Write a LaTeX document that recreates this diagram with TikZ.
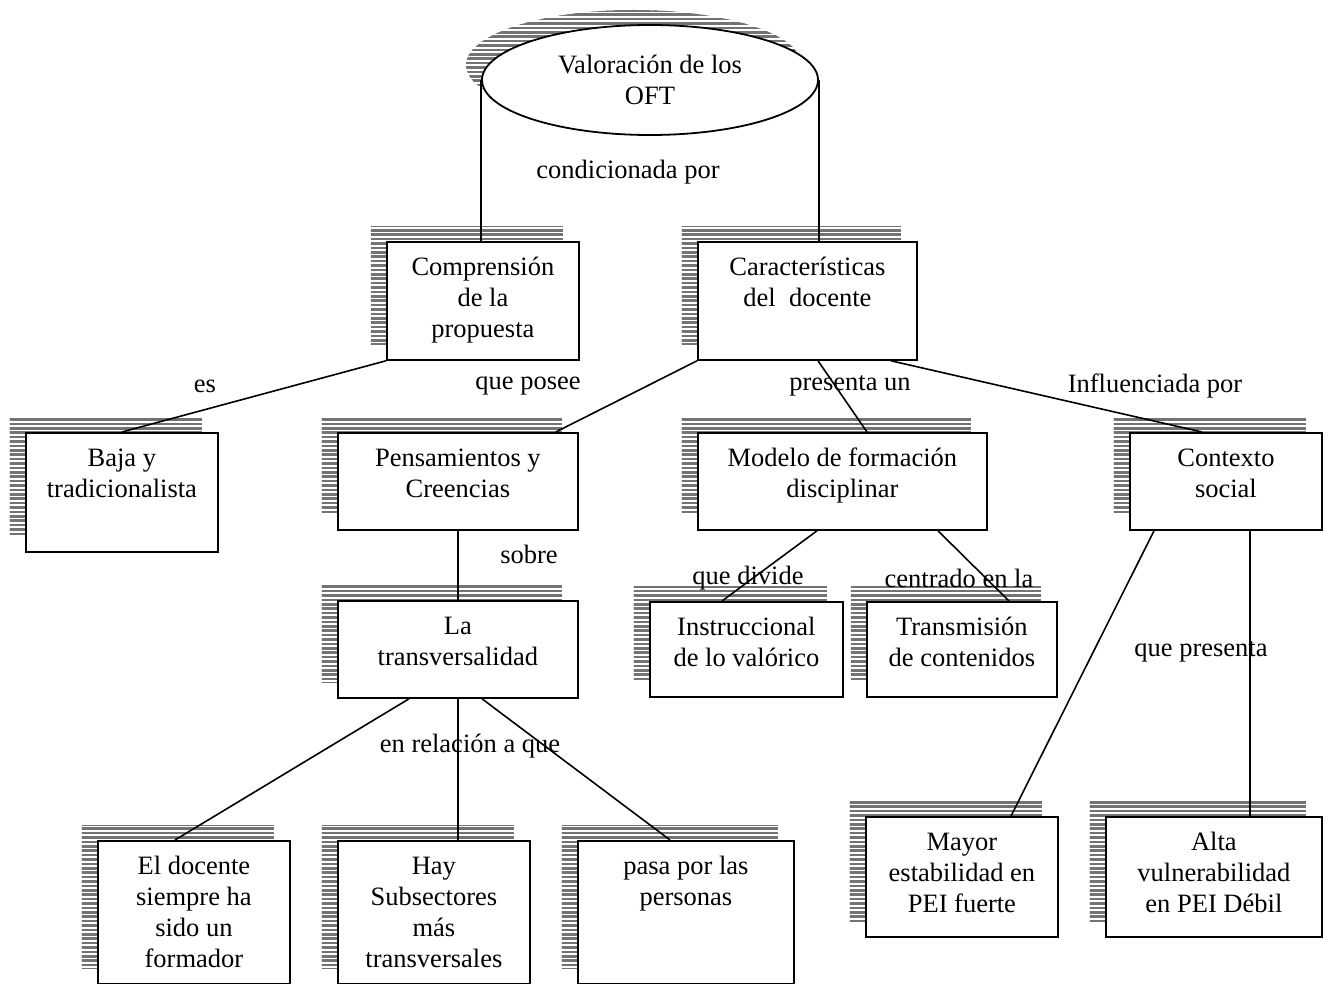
\documentclass[tikz,border=0pt]{standalone}
\usepackage{fontspec}
\setmainfont{Liberation Serif}
\usetikzlibrary{calc,patterns,shapes.geometric}

\pgfdeclarepatternformonly{rayas}{\pgfqpoint{-1pt}{-1pt}}{\pgfqpoint{5pt}{3pt}}{\pgfqpoint{4pt}{2.2pt}}%
  {\pgfpathrectangle{\pgfqpoint{-1pt}{0pt}}{\pgfqpoint{6pt}{1.25pt}}\pgfusepath{fill}}

\newlength\pxu
\setlength\pxu{0.5pt}
\newcommand{\cajatxt}[3]{\parbox[c][#2\pxu][t]{#1\pxu}{\centering\rule{0pt}{34\pxu}#3}}

\tikzset{
  sombra/.style={preaction={pattern=rayas, pattern color=black!55, transform canvas={shift={(-16,-15)}}}},
  caja/.style={draw, fill=white, line width=0.9pt, inner sep=0pt, anchor=north west, sombra},
  enlace/.style={line width=0.8pt},
  rotulo/.style={inner sep=0pt}
}

\begin{document}
\begin{tikzpicture}[x=0.5pt, y=-0.5pt, font=\fontsize{13.25pt}{15.5pt}\selectfont]
	\useasboundingbox (0,0) rectangle (1332,984);
	
	\node [ellipse, draw, fill=white, line width=0.9pt, inner sep=0pt, minimum width=168pt, minimum height=55pt, align=center, sombra] (oft) at (650,80) {Valoración de los\\OFT};
	
	\node [caja] (comp) at (386,241) {\cajatxt{192}{118}{Comprensión\\de la\\propuesta}};
	\node [caja] (carac) at (697,241) {\cajatxt{219}{118}{Características\\del~ docente}};
	
	\node [caja] (baja) at (25,432) {\cajatxt{192}{119}{Baja y\\tradicionalista}};
	\node [caja] (pens) at (337,432) {\cajatxt{240}{97}{Pensamientos y\\Creencias}};
	\node [caja] (modelo) at (697,432) {\cajatxt{289}{97}{Modelo de formación\\disciplinar}};
	\node [caja] (ctx) at (1129,432) {\cajatxt{192}{97}{Contexto\\social}};
	
	\node [caja] (trans) at (337,600) {\cajatxt{240}{97}{La\\transversalidad}};
	\node [caja] (instr) at (649,601) {\cajatxt{193}{95}{Instruccional\\de lo valórico}};
	\node [caja] (transm) at (866,601) {\cajatxt{190}{95}{Transmisión\\de contenidos}};
	
	\node [caja] (mayor) at (865,816) {\cajatxt{192}{120}{Mayor\\estabilidad en\\PEI fuerte}};
	\node [caja] (alta) at (1105,816) {\cajatxt{216}{120}{Alta\\vulnerabilidad\\en PEI Débil}};
	
	\node [caja] (docente) at (97,840) {\cajatxt{192}{143}{El docente\\siempre ha\\sido un\\formador}};
	\node [caja] (hay) at (337,840) {\cajatxt{192}{143}{Hay\\Subsectores\\más\\transversales}};
	\node [caja] (pasa) at (577,840) {\cajatxt{216}{143}{pasa por las\\personas}};
	
	% enlaces
	\draw [enlace] (oft.west) -- (oft.west |- comp.north);
	\draw [enlace] (oft.east) -- (oft.east |- carac.north);
	\draw [enlace] (comp.south west) -- (baja.north);
	\draw [enlace] (carac.south west) -- ($(pens.north east)+(-23,0)$);
	\draw [enlace] ($(carac.south west)+(121,0)$) -- ($(modelo.north west)+(170,0)$);
	\draw [enlace] ($(carac.south west)+(194,0)$) -- ($(ctx.north west)+(73,0)$);
	\draw [enlace] (pens.south) -- (trans.north);
	\draw [enlace] ($(modelo.south west)+(120,0)$) -- ($(instr.north west)+(73,0)$);
	\draw [enlace] ($(modelo.south west)+(241,0)$) -- ($(transm.north west)+(143,0)$);
	\draw [enlace] ($(ctx.south west)+(25,0)$) -- ($(mayor.north west)+(146,0)$);
	\coordinate (ctxb) at ($(ctx.south west)+(121,0)$);
	\draw [enlace] (ctxb) -- (ctxb |- alta.north);
	\draw [enlace] ($(trans.south west)+(72,0)$) -- ($(docente.north west)+(78,0)$);
	\draw [enlace] (trans.south) -- (trans.south |- hay.north);
	\draw [enlace] ($(trans.south west)+(145,0)$) -- ($(pasa.north west)+(93,0)$);
	
	% rotulos
	\node [rotulo] (r1) at (628,172) {condicionada por};
	\node [rotulo] (r2) at (205,386) {es};
	\node [rotulo] (r3) at (528,386) {que posee};
	\node [rotulo] (r4) at (850,386) {presenta un};
	\node [rotulo] (r5) at (1155,386) {Influenciada por};
	\node [rotulo] (r6) at (529,554) {sobre};
	\node [rotulo] (r7) at (748,578) {que divide};
	\node [rotulo] (r8) at (959,578) {centrado en la};
	\node [rotulo] (r9) at (1201,652) {que presenta};
	\node [rotulo] (r10) at (470,746) {en relación a que};
\end{tikzpicture}
\end{document}
